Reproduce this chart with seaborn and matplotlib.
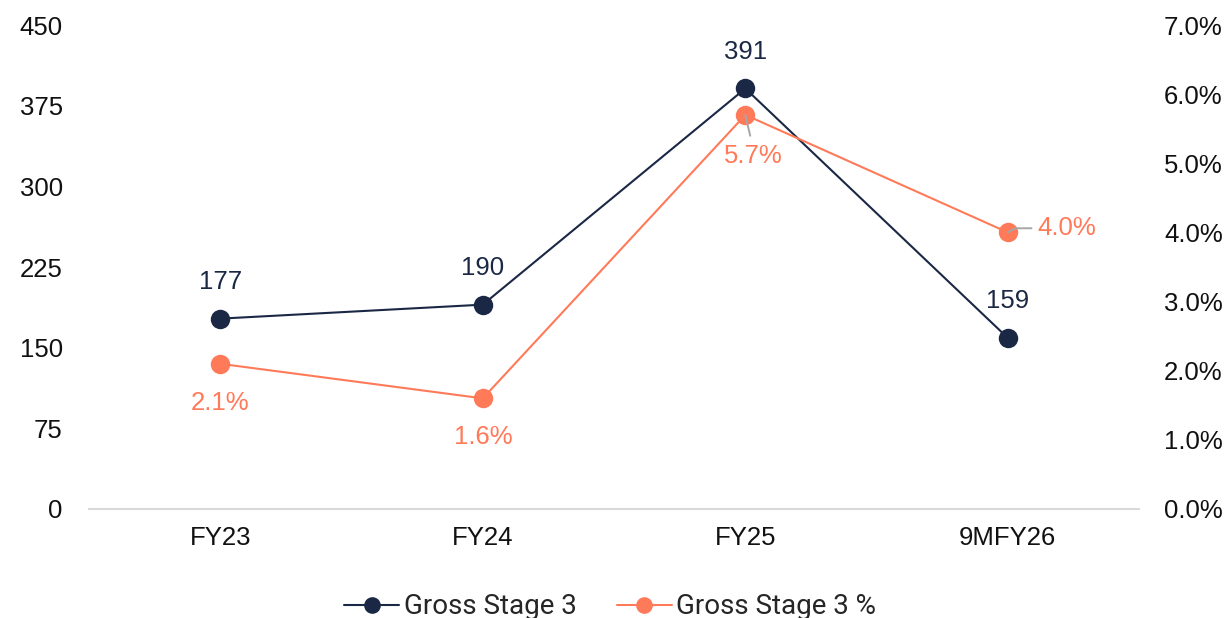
import matplotlib
matplotlib.use("Agg")
import matplotlib.pyplot as plt
from matplotlib.lines import Line2D
import seaborn as sns
import pandas as pd

periods = ["FY23", "FY24", "FY25", "9MFY26"]
gross_stage3 = [177, 190, 391, 159]
gross_stage3_pct = [2.1, 1.6, 5.7, 4.0]
left_ticks = [0, 75, 150, 225, 300, 375, 450]
right_ticks = [0, 1, 2, 3, 4, 5, 6, 7]

NAVY = "#1B2845"
CORAL = "#FF7A59"
TEXT = "#111111"

sns.set_theme(style="white")
plt.rcParams["font.family"] = ["Liberation Sans", "DejaVu Sans"]

df = pd.DataFrame({"period": periods, "gs3": gross_stage3, "pct": gross_stage3_pct})

fig = plt.figure(figsize=(12.3, 6.18), dpi=100)
ax = fig.add_axes([0.0724, 0.1764, 0.8537, 0.7831])
ax2 = ax.twinx()

sns.lineplot(data=df, x="period", y="gs3", ax=ax, color=NAVY, marker="o",
             markersize=14, linewidth=1.5, markeredgewidth=0, sort=False, zorder=3)
sns.lineplot(data=df, x="period", y="pct", ax=ax2, color=CORAL, marker="o",
             markersize=14, linewidth=1.5, markeredgewidth=0, sort=False, zorder=3)

ax.set_xlim(-0.5, 3.5)
ax.set_ylim(0, 450)
ax2.set_ylim(0, 7)
ax.set_yticks(left_ticks)
ax.set_yticklabels([str(v) for v in left_ticks])
ax2.set_yticks(right_ticks)
ax2.set_yticklabels([f"{v:.1f}%" for v in right_ticks])

for a in (ax, ax2):
    a.set_xlabel("")
    a.set_ylabel("")
    for s in a.spines.values():
        s.set_visible(False)
    a.tick_params(length=0, labelsize=18.5, labelcolor=TEXT)
    a.grid(False)
ax.spines["bottom"].set_visible(True)
ax.spines["bottom"].set_color("#D9D9D9")
ax.spines["bottom"].set_linewidth(1.5)
ax.tick_params(axis="x", pad=12)
ax.tick_params(axis="y", pad=19)
ax2.tick_params(axis="y", pad=18)
ax2.set_zorder(ax.get_zorder() + 1)
ax.patch.set_visible(True)
ax2.patch.set_visible(False)

# value labels for Gross Stage 3
for i, v in enumerate(gross_stage3):
    ax.annotate(str(v), (i, v), xytext=(0, 26.5), textcoords="offset points",
                ha="center", va="center", fontsize=18.5, color=NAVY)

# percentage labels
for i, v in enumerate(gross_stage3_pct):
    label = f"{v:.1f}%"
    if i == 2:
        ax2.annotate(label, (i, v), xytext=(6, -29.5), textcoords="offset points",
                     ha="center", va="center", fontsize=18.5, color=CORAL)
        ax2.annotate("", (i, v), xytext=(3.5, -15), textcoords="offset points",
                     arrowprops=dict(arrowstyle="-", color="#A6A6A6", lw=1.4,
                                     shrinkA=0, shrinkB=0))
    elif i == 3:
        ax2.annotate(label, (i, v), xytext=(21, 3), textcoords="offset points",
                     ha="left", va="center", fontsize=18.5, color=CORAL)
        ax2.annotate("", (i, v), xytext=(17, 3), textcoords="offset points",
                     arrowprops=dict(arrowstyle="-", color="#A6A6A6", lw=1.4,
                                     shrinkA=0, shrinkB=0,
                                     connectionstyle="angle,angleA=0,angleB=30,rad=0"))
    else:
        ax2.annotate(label, (i, v), xytext=(0, -28), textcoords="offset points",
                     ha="center", va="center", fontsize=18.5, color=CORAL)

handles = [
    Line2D([], [], color=NAVY, marker="o", markersize=12, linewidth=1.5, markeredgewidth=0),
    Line2D([], [], color=CORAL, marker="o", markersize=12, linewidth=1.5, markeredgewidth=0),
]
fig.legend(handles, ["Gross Stage 3", "Gross Stage 3 %"], loc="center",
           bbox_to_anchor=(0.496, 0.018), ncol=2, frameon=False,
           handlelength=2.0, handletextpad=0.15, columnspacing=1.45,
           prop={"family": ["Roboto", "DejaVu Sans"], "size": 20})

fig.savefig("out.png", dpi=100)
